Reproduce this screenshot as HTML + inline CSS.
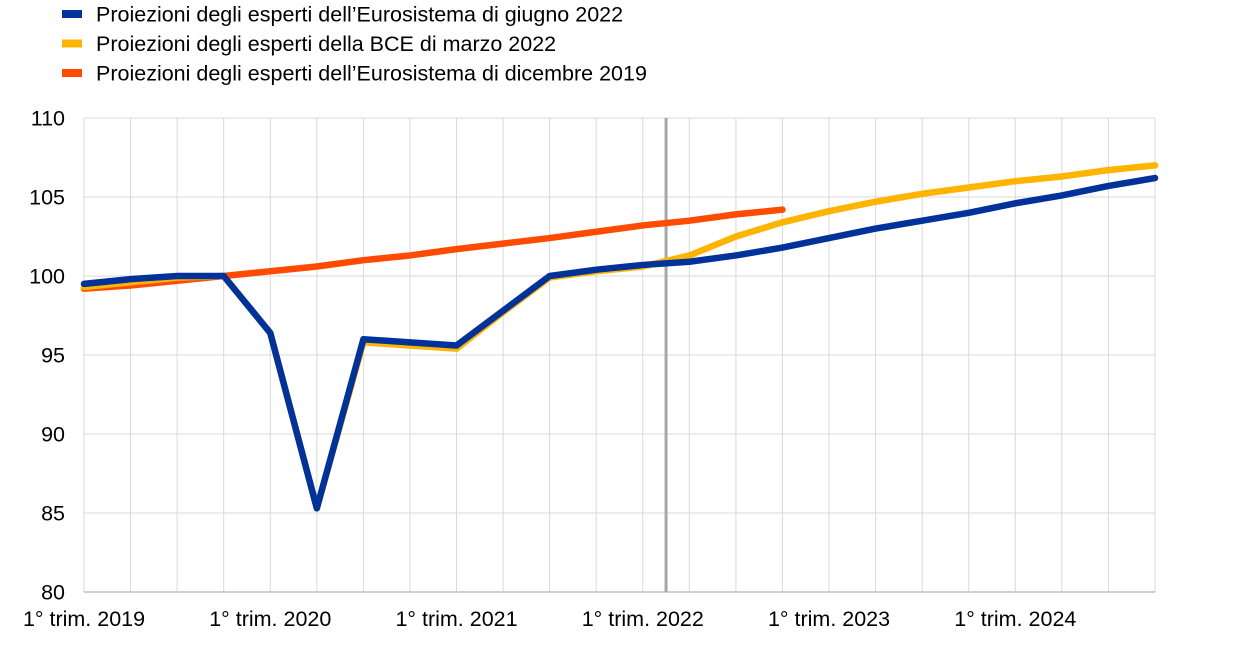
<!DOCTYPE html>
<html><head><meta charset="utf-8"><style>
body{margin:0;background:#fff;font-family:"Liberation Sans",Arial,sans-serif}
svg text{font-family:"Liberation Sans",Arial,sans-serif;fill:#000}
</style></head><body>
<svg id="c" width="1240" height="645" xmlns="http://www.w3.org/2000/svg"></svg>
<script>
const categories=["2019Q1","2019Q2","2019Q3","2019Q4","2020Q1","2020Q2","2020Q3","2020Q4","2021Q1","2021Q2","2021Q3","2021Q4","2022Q1","2022Q2","2022Q3","2022Q4","2023Q1","2023Q2","2023Q3","2023Q4","2024Q1","2024Q2","2024Q3","2024Q4"];
const june2022=[99.5,99.8,100,100,96.4,85.3,96,95.8,95.6,97.8,100,100.4,100.7,100.9,101.3,101.8,102.4,103,103.5,104,104.6,105.1,105.7,106.2];
const march2022=[99.3,99.6,99.9,100,96.4,85.3,95.8,95.6,95.4,97.7,99.9,100.3,100.6,101.3,102.5,103.4,104.1,104.7,105.2,105.6,106,106.3,106.7,107];
const dec2019=[99.2,99.4,99.7,100,100.3,100.6,101,101.3,101.7,102.05,102.4,102.8,103.2,103.5,103.9,104.2];
const yTicks=[80,85,90,95,100,105,110];
const xLabels=[{i:0,t:"1° trim. 2019"},{i:4,t:"1° trim. 2020"},{i:8,t:"1° trim. 2021"},{i:12,t:"1° trim. 2022"},{i:16,t:"1° trim. 2023"},{i:20,t:"1° trim. 2024"}];
const cutoff=12.5;
const legend=[{t:"Proiezioni degli esperti dell’Eurosistema di giugno 2022",c:"#003299"},{t:"Proiezioni degli esperti della BCE di marzo 2022",c:"#FFB400"},{t:"Proiezioni degli esperti dell’Eurosistema di dicembre 2019",c:"#FF4B00"}];
const L=84,R=1155,T=118,B=592,ymin=80,ymax=110;
const x=i=>L+i*(R-L)/(categories.length-1);
const y=v=>B-(v-ymin)/(ymax-ymin)*(B-T);
const svg=document.getElementById('c');const NS="http://www.w3.org/2000/svg";
function mk(tag,a,txt){const e=document.createElementNS(NS,tag);for(const k in a)e.setAttribute(k,a[k]);if(txt)e.textContent=txt;svg.appendChild(e);return e;}
categories.forEach((c,i)=>{const g=mk('line',{x1:x(i),x2:x(i),y1:T,y2:B,stroke:'#d9d9d9','stroke-width':1});
});
yTicks.forEach(v=>{const g=mk('line',{x1:L,x2:R,y1:y(v),y2:y(v),stroke:'#d9d9d9','stroke-width':1});

const t=mk('text',{x:65,y:y(v)+7.5,'text-anchor':'end','font-size':21.5},String(v));
});
const ax=mk('line',{x1:L,x2:R,y1:B,y2:B,stroke:'#bfbfbf','stroke-width':1.5});

xLabels.forEach(o=>{const t=mk('text',{x:x(o.i),y:626,'text-anchor':'middle','font-size':21.5},o.t);
});
const cl=mk('line',{x1:x(cutoff),x2:x(cutoff),y1:T,y2:B,stroke:'#a6a6a6','stroke-width':3});

function series(d,col,name){const p=mk('polyline',{points:d.map((v,i)=>x(i)+','+y(v)).join(' '),fill:'none',stroke:col,'stroke-width':6.5,'stroke-linejoin':'round','stroke-linecap':'round'});
}
series(dec2019,legend[2].c,'series-december-2019');
series(march2022,legend[1].c,'series-march-2022');
series(june2022,legend[0].c,'series-june-2022');
legend.forEach((o,k)=>{const yy=14+k*29.5;
const r=mk('rect',{x:62,y:yy-4,width:20,height:8,fill:o.c});
const t=mk('text',{x:96,y:yy+7.5,'font-size':21.5},o.t);});
</script>
</body></html>
